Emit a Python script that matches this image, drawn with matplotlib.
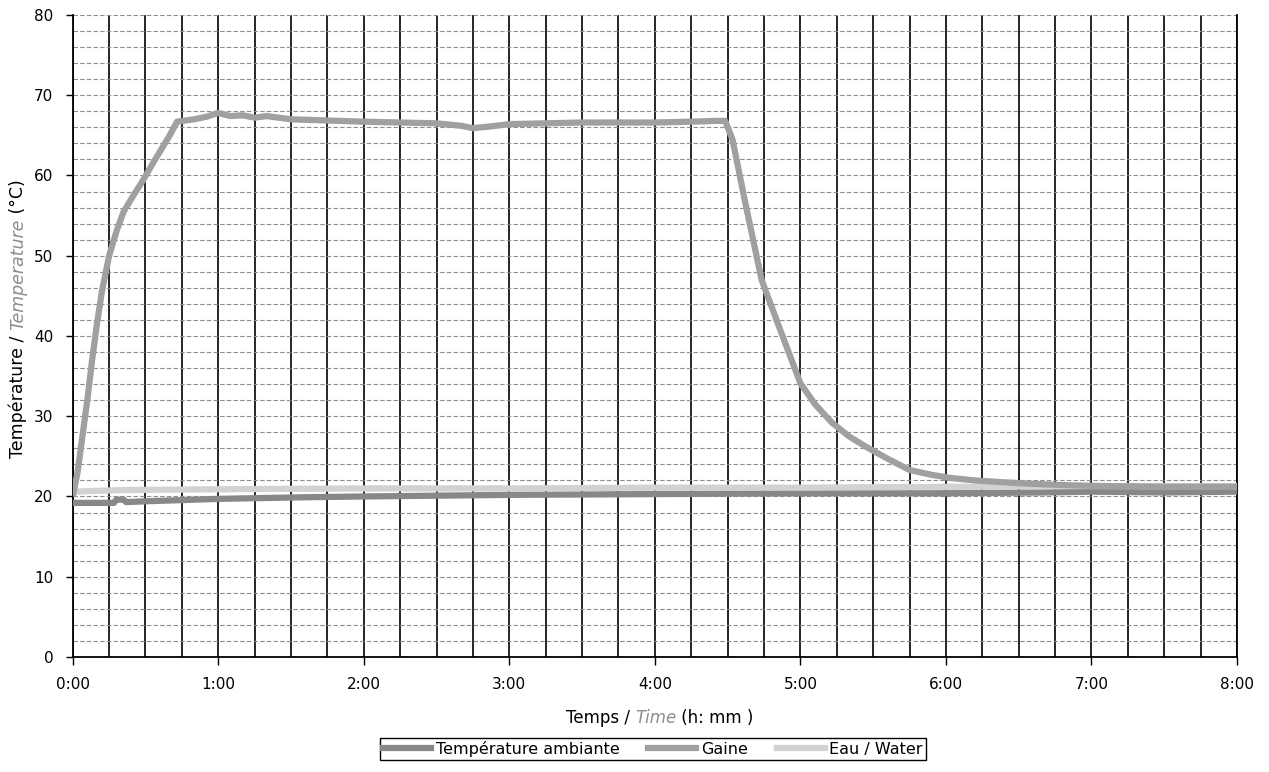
import matplotlib
matplotlib.use("Agg")
import matplotlib.pyplot as plt
from matplotlib.lines import Line2D
from matplotlib.ticker import MultipleLocator, FuncFormatter

plt.rcParams["font.family"] = ["DejaVu Sans"]
plt.rcParams["font.size"] = 11

# --- data (time in minutes, temperature in degC) ---
gaine_t = [0, 2, 4, 6, 8, 10, 12, 15, 18, 21, 25, 29, 33, 37, 40, 43, 50, 55, 60,
           65, 70, 75, 80, 90, 100, 110, 120, 135, 150, 160, 165, 172, 180,
           195, 210, 225, 240, 255, 265, 269, 272, 277, 284, 292, 300, 306,
           313, 320, 327, 336, 345, 354, 362, 372, 382, 394, 410, 424, 450, 480]
gaine_v = [20.0, 23.0, 27.5, 32.0, 37.0, 41.5, 45.5, 50.0, 53.0, 55.5, 57.5,
           59.4, 61.5, 63.5, 65.0, 66.7, 67.0, 67.3, 67.8, 67.4, 67.5, 67.2, 67.4,
           67.0, 66.9, 66.8, 66.7, 66.6, 66.5, 66.2, 65.9, 66.1, 66.4, 66.5,
           66.6, 66.6, 66.6, 66.7, 66.8, 66.8, 64.5, 57.0, 47.0, 40.5, 34.1,
           31.5, 29.2, 27.5, 26.2, 24.7, 23.3, 22.7, 22.3, 22.0, 21.8, 21.6,
           21.4, 21.3, 21.2, 21.2]

amb_t = [0, 17, 18, 21, 22, 30, 60, 95, 120, 180, 240, 300, 360, 400, 420, 450, 480]
amb_v = [19.2, 19.2, 19.6, 19.6, 19.3, 19.4, 19.7, 19.9, 20.0, 20.2, 20.3,
         20.4, 20.4, 20.5, 20.6, 20.5, 20.6]

eau_t = [0, 20, 60, 120, 180, 240, 300, 360, 420, 480]
eau_v = [20.6, 20.8, 20.9, 21.0, 21.0, 21.1, 21.1, 21.2, 21.3, 21.3]

series_labels = ["Température ambiante", "Gaine", "Eau / Water"]
colors = ["#888888", "#a0a0a0", "#d2d2d2"]
hour_ticks = [0, 60, 120, 180, 240, 300, 360, 420, 480]

fig = plt.figure(figsize=(12.69, 7.72), dpi=100)
ax = fig.add_axes([0.0573, 0.149, 0.9175, 0.8316])

ax.plot(amb_t, amb_v, color=colors[0], lw=4.5, solid_capstyle="butt", zorder=3)
ax.plot(gaine_t, gaine_v, color=colors[1], lw=4.5, solid_capstyle="butt", zorder=4)
ax.plot(eau_t, eau_v, color=colors[2], lw=4.5, solid_capstyle="butt", zorder=3)

ax.set_xlim(0, 480)
ax.set_ylim(0, 80)
ax.set_xticks(hour_ticks)
ax.xaxis.set_major_formatter(FuncFormatter(lambda v, p: f"{int(v // 60)}:{int(v % 60):02d}"))
ax.xaxis.set_minor_locator(MultipleLocator(15))
ax.yaxis.set_major_locator(MultipleLocator(10))
ax.yaxis.set_minor_locator(MultipleLocator(2))

ax.grid(which="both", axis="x", color="black", lw=1.2, ls="-", zorder=1)
ax.grid(which="both", axis="y", color="#8c8c8c", lw=0.8, ls=(0, (4, 2)), zorder=1)
ax.set_axisbelow(True)

ax.tick_params(axis="x", which="major", direction="out", length=6, width=1,
               pad=8.5, labelsize=11)
ax.tick_params(axis="y", which="major", direction="out", length=5, width=1,
               pad=9, labelsize=11)
ax.tick_params(which="minor", length=0)

ax.spines["top"].set_visible(False)
for s in ("left", "bottom", "right"):
    ax.spines[s].set_color("black")
    ax.spines[s].set_linewidth(1.3)


def mixed_label(x, y, parts, vertical=False, size=11.5):
    """Chain text pieces with different styles, then centre the whole group."""
    arts = []
    for i, (s, props) in enumerate(parts):
        if i == 0:
            if vertical:
                t = fig.text(x, y, s, rotation=90, ha="center", va="bottom",
                             fontsize=size, **props)
            else:
                t = fig.text(x, y, s, ha="left", va="bottom", fontsize=size, **props)
        else:
            prev = arts[-1]
            if vertical:
                t = ax.annotate(s, xy=(0.5, 1), xycoords=prev, rotation=90,
                                ha="center", va="bottom", annotation_clip=False,
                                fontsize=size, **props)
            else:
                t = ax.annotate(s, xy=(1, 0), xycoords=prev, ha="left", va="bottom",
                                annotation_clip=False, fontsize=size, **props)
        arts.append(t)
    fig.canvas.draw()
    r = fig.canvas.get_renderer()
    bbs = [a.get_window_extent(r) for a in arts]
    W, H = fig.bbox.width, fig.bbox.height
    if vertical:
        total = bbs[-1].y1 - bbs[0].y0
        arts[0].set_position((x, y - total / 2 / H))
    else:
        total = bbs[-1].x1 - bbs[0].x0
        arts[0].set_position((x - total / 2 / W, y))


mixed_label(0.0142, 0.587, [("Température / ", dict(color="black")),
                            ("Temperature", dict(color="#8c8c8c", style="italic")),
                            (" (°C)", dict(color="black"))], vertical=True, size=12.5)
mixed_label(0.52, 0.058, [("Temps / ", dict(color="black")),
                          ("Time", dict(color="#8c8c8c", style="italic")),
                          (" (h: mm )", dict(color="black"))], size=12)

handles = [Line2D([], [], color=c, lw=4.5) for c in colors]
leg = fig.legend(handles, series_labels, loc="center", bbox_to_anchor=(0.5146, 0.0298),
                 ncol=3, frameon=True, fancybox=False, edgecolor="black", framealpha=1,
                 fontsize=11.5, handlelength=3.0, handletextpad=0.3, columnspacing=1.8,
                 borderpad=0.2, borderaxespad=0)
leg.get_frame().set_linewidth(1.0)

fig.savefig("out.png", dpi=100)
